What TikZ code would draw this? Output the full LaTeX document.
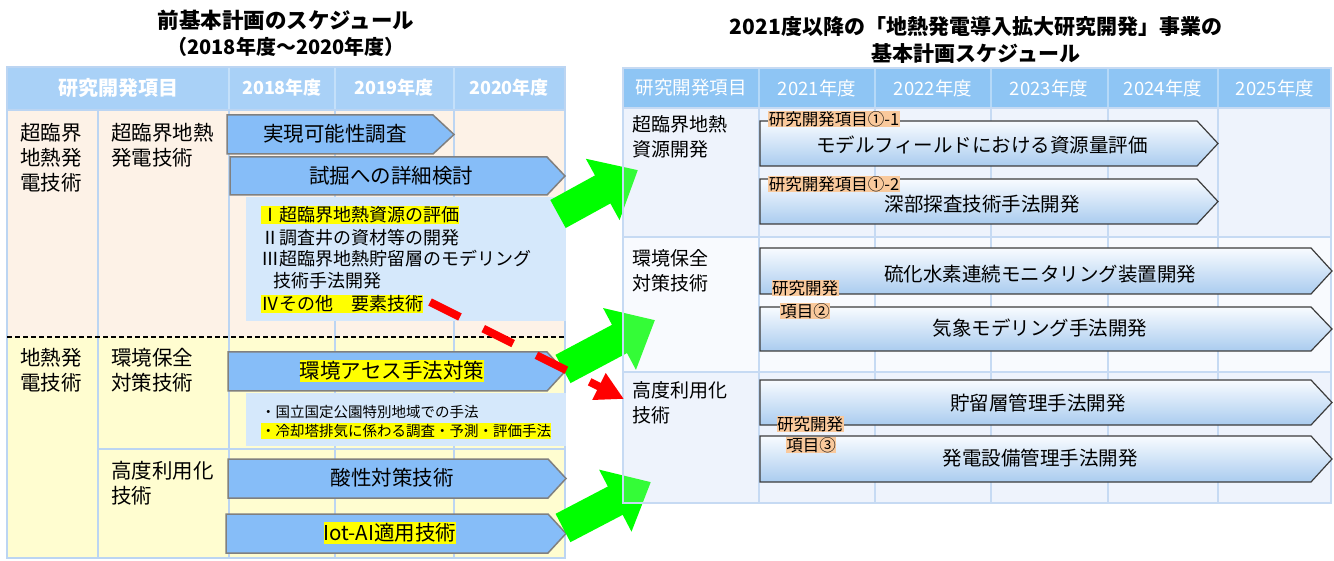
\documentclass[tikz,border=0pt]{standalone}
\usepackage{fontspec}
\setmainfont{Noto Sans CJK JP}
\usetikzlibrary{arrows.meta}
\definecolor{lhead}{HTML}{A9D1F7}
\definecolor{lheadline}{HTML}{C4E0FA}
\definecolor{lrowa}{HTML}{FDF2E7}
\definecolor{lrowb}{HTML}{FFFDD0}
\definecolor{lgrid}{HTML}{BCD5F2}
\definecolor{lbarfill}{HTML}{86BDF8}
\definecolor{lbarline}{HTML}{808080}
\definecolor{lbox}{HTML}{D5E8FB}
\definecolor{rhead}{HTML}{8EC5F4}
\definecolor{rheadline}{HTML}{B5D9F8}
\definecolor{rrow}{HTML}{EEF3FC}
\definecolor{rrowb}{HTML}{FCFDFF}
\definecolor{rgrid}{HTML}{C6DAF3}
\definecolor{rbartop}{HTML}{F8FBFF}
\definecolor{rbarbot}{HTML}{AACCEF}
\definecolor{rbarline}{HTML}{3C3C3C}
\definecolor{olabel}{HTML}{F9C99C}
\definecolor{hlyellow}{HTML}{FFFF00}
\definecolor{agreen}{HTML}{00FF00}
\definecolor{ared}{HTML}{FF0000}
\newcommand{\lbarshape}[5]{%
  \filldraw[leftbar] (#1,#2) -- ({#3-#5},#2) -- (#3,{(#2+#4)/2}) -- ({#3-#5},#4) -- (#1,#4) -- cycle;}
\newcommand{\rbarshape}[5]{%
  \draw[rightbar] (#1,#2) -- ({#3-#5},#2) -- (#3,{(#2+#4)/2}) -- ({#3-#5},#4) -- (#1,#4) -- cycle;}
\newcommand{\grarrow}[4]{%
  \begin{scope}[shift={(#1,#2)},rotate=#3]
    \fill[agreen] (0,16) -- ({#4-40},16) -- ({#4-40},35) -- (#4,0) -- ({#4-40},-35) -- ({#4-40},-16) -- (0,-16) -- cycle;
  \end{scope}}
\begin{document}
\begin{tikzpicture}[x=1pt,y=-1pt,
  ttl/.style={font=\fontsize{21.5}{26}\selectfont\bfseries, inner sep=0},
  lhdr/.style={font=\fontsize{20}{24}\selectfont\bfseries, text=white, inner sep=0},
  lyr/.style={font=\fontsize{18}{22}\selectfont\bfseries, text=white, inner sep=0},
  lrowlab/.style={font=\fontsize{20.5}{25}\selectfont, align=left, anchor=west, inner sep=0},
  lbartxt/.style={font=\fontsize{20.5}{24}\selectfont, inner sep=0},
  hlbartxt/.style={font=\fontsize{20.5}{24}\selectfont, fill=hlyellow, inner xsep=0, inner ysep=1.5pt},
  listtxt/.style={font=\fontsize{18}{22}\selectfont, anchor=west, inner xsep=0, inner ysep=1pt},
  hllisttxt/.style={listtxt, fill=hlyellow},
  smalltxt/.style={font=\fontsize{14.5}{18}\selectfont, anchor=west, inner xsep=0, inner ysep=1pt},
  hlsmalltxt/.style={smalltxt, fill=hlyellow},
  leftbar/.style={fill=lbarfill, draw=lbarline, line width=1.5pt, line join=miter},
  rightbar/.style={top color=rbartop, bottom color=rbarbot, draw=rbarline, line width=1.2pt},
  rhdr/.style={font=\fontsize{18.5}{22}\selectfont, text=white, inner sep=0},
  rrowlab/.style={font=\fontsize{19}{25}\selectfont, align=left, anchor=west, inner sep=0},
  rbartxt/.style={font=\fontsize{19.5}{24}\selectfont, inner sep=0},
  olab/.style={font=\fontsize{16.5}{20}\selectfont, fill=olabel, inner xsep=0.5pt, inner ysep=0.5pt},
  redarrow/.style={draw=ared, line width=8pt, dash pattern=on 33.5pt off 26pt, -{Triangle[length=28pt,width=28pt]}}
]
\useasboundingbox (0,0) rectangle (1334,561);
\fill[white] (0,0) rectangle (1334,561);

% ---------- titles
\node[ttl] (ltitle1) at (286,20) {前基本計画のスケジュール};
\node[ttl, font=\fontsize{20}{24}\selectfont\bfseries] (ltitle2) at (286,47) {（2018年度～2020年度）};
\node[ttl, font=\fontsize{21}{25}\selectfont\bfseries] (rtitle1) at (976,27) {2021度以降の「地熱発電導入拡大研究開発」事業の};
\node[ttl, font=\fontsize{21}{25}\selectfont\bfseries] (rtitle2) at (976,54) {基本計画スケジュール};

% ---------- left table
\fill[lrowa] (7,110) rectangle (565,337);
\fill[lrowb] (7,337) rectangle (565,558);
\fill[lhead] (7,67) rectangle (565,110);
\draw[lheadline, line width=1.2pt] (229,67) -- (229,110) (335,67) -- (335,110) (454,67) -- (454,110);
\draw[lgrid, line width=1.2pt] (98,110) -- (98,558) (229,110) -- (229,558) (335,110) -- (335,558) (454,110) -- (454,558)
  (7,110) -- (565,110) (98,449) -- (565,449);
\draw[lgrid, line width=1.5pt] (7,67) rectangle (565,558);
\draw[black, line width=1.5pt, dash pattern=on 5pt off 3pt] (7,337) -- (565,337);

\node[lhdr] (lh0) at (118,88) {研究開発項目};
\node[lyr] (lh1) at (282,88) {2018年度};
\node[lyr] (lh2) at (394,88) {2019年度};
\node[lyr] (lh3) at (509,88) {2020年度};

\node[lrowlab] (lr1) at (20,158) {超臨界\\地熱発\\電技術};
\node[lrowlab] (lr1b) at (111,145.5) {超臨界地熱\\発電技術};
\node[lrowlab] (lr2) at (20,370) {地熱発\\電技術};
\node[lrowlab] (lr2b) at (111,370.5) {環境保全\\対策技術};
\node[lrowlab] (lr3b) at (111,483) {高度利用化\\技術};

\lbarshape{227}{115}{454}{154}{21}
\node[lbartxt] (lb1) at (335,134) {実現可能性調査};
\lbarshape{230}{157}{565}{195}{18}
\node[lbartxt] (lb2) at (391,176) {試掘への詳細検討};

\fill[lbox] (246,197) rectangle (566,321);
\node[hllisttxt] (li1) at (261,215) {Ⅰ超臨界地熱資源の評価};
\node[listtxt] (li2) at (261,238) {Ⅱ調査井の資材等の開発};
\node[listtxt] (li3) at (261,259) {Ⅲ超臨界地熱貯留層のモデリング};
\node[listtxt] (li4) at (273,281) {技術手法開発};
\node[hllisttxt] (li5) at (261,304) {Ⅳその他　要素技術};

\lbarshape{228}{352}{565}{391}{18}
\node[hlbartxt] (lb3) at (392,371) {環境アセス手法対策};
\fill[lbox] (246,393) rectangle (566,446);
\node[smalltxt] (ls1) at (261,412) {・国立国定公園特別地域での手法};
\node[hlsmalltxt] (ls2) at (261,431) {・冷却塔排気に係わる調査・予測・評価手法};

\lbarshape{228}{459}{566}{498}{18}
\node[lbartxt] (lb4) at (392,478) {酸性対策技術};
\lbarshape{226}{514}{566}{553}{18}
\node[hlbartxt] (lb5) at (390,533) {Iot-AI適用技術};

% ---------- right table fills
\fill[rrow] (623,108) rectangle (1331,237);
\fill[rrowb] (623,237) rectangle (1331,372);
\fill[rrow] (623,372) rectangle (1331,503);
\fill[rhead] (623,68) rectangle (1331,108);

% ---------- green block arrows
\grarrow{558}{214}{28.8}{91}
\grarrow{563}{369}{28.0}{104}
\grarrow{563}{528}{27.6}{99}

% translucent table layer over arrow tips
\fill[rrow, fill opacity=0.22] (623,108) rectangle (1331,503);
\draw[rheadline, line width=1.2pt] (759,68) -- (759,108) (875,68) -- (875,108) (991,68) -- (991,108) (1108,68) -- (1108,108) (1218,68) -- (1218,108);
\draw[rgrid, line width=1.2pt] (759,108) -- (759,503) (875,108) -- (875,503) (991,108) -- (991,503) (1108,108) -- (1108,503) (1218,108) -- (1218,503)
  (623,108) -- (1331,108) (623,237) -- (1331,237) (623,372) -- (1331,372);
\draw[rgrid, line width=1.5pt] (623,68) rectangle (1331,503);

\node[rhdr] (rh0) at (691,88) {研究開発項目};
\node[rhdr] (rh1) at (817,88) {2021年度};
\node[rhdr] (rh2) at (933,88) {2022年度};
\node[rhdr] (rh3) at (1049,88) {2023年度};
\node[rhdr] (rh4) at (1163,88) {2024年度};
\node[rhdr] (rh5) at (1275,88) {2025年度};

\node[rrowlab] (rr1) at (632,137) {超臨界地熱\\資源開発};
\node[rrowlab] (rr2) at (632,271) {環境保全\\対策技術};
\node[rrowlab] (rr3) at (632,403) {高度利用化\\技術};

\rbarshape{760}{121}{1218}{166}{21}
\node[rbartxt] (rb1) at (982,145) {モデルフィールドにおける資源量評価};
\rbarshape{760}{179}{1218}{224}{21}
\node[rbartxt] (rb2) at (982,204) {深部探査技術手法開発};
\rbarshape{760}{248}{1332}{294}{21}
\node[rbartxt] (rb3) at (1040,274) {硫化水素連続モニタリング装置開発};
\rbarshape{760}{307}{1332}{351}{21}
\node[rbartxt] (rb4) at (1040,328) {気象モデリング手法開発};
\rbarshape{760}{380}{1332}{425}{21}
\node[rbartxt] (rb5) at (1038,403) {貯留層管理手法開発};
\rbarshape{760}{436}{1332}{482}{21}
\node[rbartxt] (rb6) at (1040,458) {発電設備管理手法開発};

\node[olab] (lab1) at (834,119) {研究開発項目①-1};
\node[olab] (lab2) at (834,184) {研究開発項目①-2};
\node[olab] (lab3a) at (805,288) {研究開発};
\node[olab] (lab3b) at (805,311) {項目②};
\node[olab] (lab4a) at (810,424) {研究開発};
\node[olab] (lab4b) at (811,445) {項目③};

% ---------- red dashed arrow
\coordinate (redstart) at (430,302);
\coordinate (redend) at (624,399);
\draw[redarrow] (redstart) -- (redend);
\end{tikzpicture}
\end{document}
